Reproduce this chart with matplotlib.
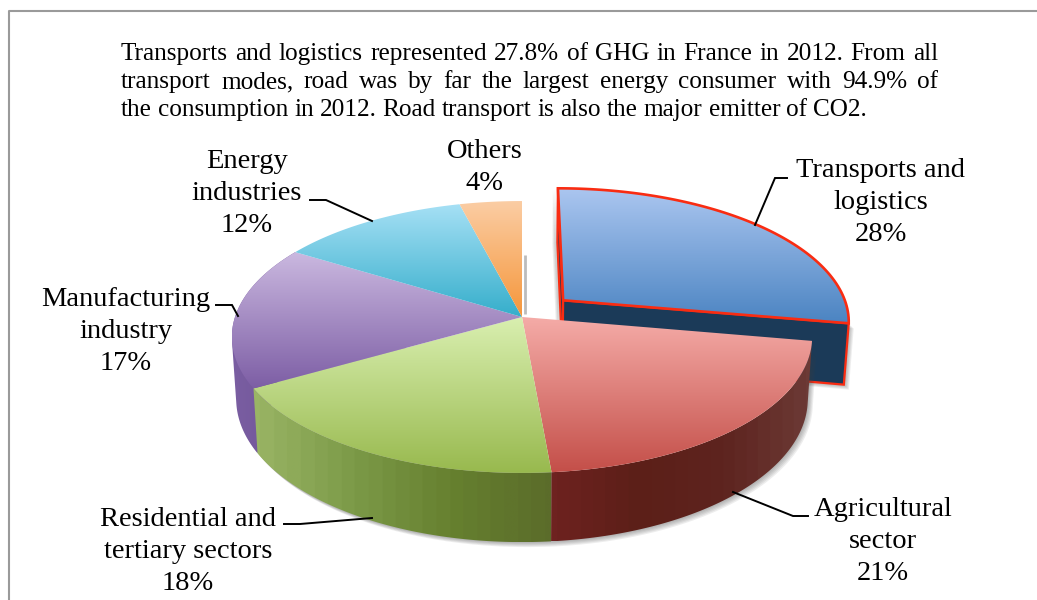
"""Exploded 3D pie of GHG emissions by sector, France 2012."""
import numpy as np
import matplotlib
matplotlib.use('Agg')
import matplotlib.pyplot as plt
from matplotlib.colors import LinearSegmentedColormap
from matplotlib.patches import Polygon

plt.rcParams['font.family'] = ['Liberation Serif', 'DejaVu Serif']

# data, clockwise from 12 o'clock
sectors = ['Transports and\nlogistics', 'Agricultural\nsector',
           'Residential and\ntertiary sectors', 'Manufacturing\nindustry',
           'Energy\nindustries', 'Others']
shares = [27.8, 20.8, 18.1, 17.1, 12.2, 4.0]

intro_lines = [
    'Transports and logistics represented 27.8% of GHG in France in 2012. From all',
    'transport modes, road was by far the largest energy consumer with 94.9% of',
    'the consumption in 2012. Road transport is also the major emitter of CO2.',
]

# top face gradient (far -> near)
top_colors = [('#abc6f0', '#4b84c2'), ('#f5aca8', '#c44f49'), ('#d9efb0', '#98b94e'),
              ('#cbb9e0', '#7d5ea5'), ('#a6e0f5', '#35aecb'), ('#fbcda4', '#f5963a')]
# rim gradient (left -> right)
side_colors = [('#1b3a58', '#1b3a58'),
               ('#6e2220', '#5c1f18', '#5e241f', '#6c3a36'),
               ('#9ab565', '#7c9a48', '#66802f', '#5b6c2a'),
               ('#7a5ea2', '#6f5496'),
               ('#2f8fa8', '#2f8fa8'), ('#c87830', '#c87830')]

# label placement: centre x, first baseline, leader line
label_pos = [(881, 177), (883, 516), (188, 526), (126, 306), (247, 168), (485, 158)]
leaders = [[(755, 225), (775, 178), (787, 178)],
           [(733, 492), (793, 516), (808, 516)],
           [(372, 518), (300, 524), (284, 524)],
           [(238, 316), (232, 305), (216, 305)],
           [(372, 221), (326, 200), (310, 200)],
           None]

# projection of the pie disc (fitted to the picture)
CX, CY = 522, 317
RX, RY = 287, 133
PERSP = 0.147
DEPTH = 61
DEPTH_SCALE = 0.985
EXPLODE = (0.146, 0.128)
RED = '#f92c12'


def project(theta, r=1.0, shift=(0, 0), low=False):
    """theta in degrees clockwise from the top; returns pixel x, y."""
    t = np.radians(theta)
    x = r * np.sin(t) + shift[0]
    y = r * np.cos(t) + shift[1]
    w = 1 + PERSP * y
    px, py = RX * x / w, -RY * y / w
    if low:
        return CX + px * DEPTH_SCALE, CY + py * DEPTH_SCALE + DEPTH / w
    return CX + px, CY + py


def arc(a, b, shift=(0, 0), low=False):
    ts = np.linspace(a, b, 80)
    x, y = project(ts, shift=shift, low=low)
    return np.column_stack([x, y])


def hull(pts):
    """Convex hull, closes the dent where the top and bottom rims meet."""
    pts = sorted(map(tuple, pts))

    def half(seq):
        out = []
        for p in seq:
            while len(out) > 1 and ((out[-1][0] - out[-2][0]) * (p[1] - out[-2][1])
                                    - (out[-1][1] - out[-2][1]) * (p[0] - out[-2][0])) <= 0:
                out.pop()
            out.append(p)
        return out[:-1]

    return np.array(half(pts) + half(pts[::-1]))


def fill_gradient(ax, pts, colors, horizontal=False, bands=None, z=2):
    cmap = LinearSegmentedColormap.from_list('g', list(colors))
    g = np.linspace(0, 1, 256)
    if bands:
        g = np.round(g * bands) / bands
    g = g[None, :] if horizontal else g[:, None]
    x0, y0 = pts.min(axis=0)
    x1, y1 = pts.max(axis=0)
    patch = Polygon(pts, closed=True, fc='none', ec='none', transform=ax.transData)
    ax.add_patch(patch)
    im = ax.imshow(g, cmap=cmap, vmin=0, vmax=1, extent=(x0, x1, y1, y0),
                   aspect='auto', zorder=z, interpolation='bilinear')
    im.set_clip_path(patch)


def soft_shadow(ax, pts, dx=3, dy=3, z=1):
    for i in range(5):
        off = np.array([dx * (i + 1) / 3, dy * (i + 1) / 3])
        ax.add_patch(Polygon(pts + off, closed=True, fc='#404040', ec='none',
                             alpha=0.09, zorder=z))


fig = plt.figure(figsize=(10.37, 6.0), dpi=100)
ax = fig.add_axes([0, 0, 1, 1])

# frame of the page box
ax.plot([9, 9, 1037], [600, 11, 11], color='#9a9a9a', lw=1.5, zorder=1)

edges = np.concatenate([[0], np.cumsum(shares)]) * 360.0 / sum(shares)

# ── exploded slice ──
a, b = edges[0], edges[1]
apex_top = np.array(project(0, r=0, shift=EXPLODE))
apex_low = np.array(project(0, r=0, shift=EXPLODE, low=True))
top_arc = arc(a, b, shift=EXPLODE)
low_arc = arc(a, b, shift=EXPLODE, low=True)

cut_end = np.vstack([apex_top, top_arc[-1], low_arc[-1], apex_low])
cut_start = np.vstack([apex_top, top_arc[0], low_arc[0], apex_low])
soft_shadow(ax, cut_end, z=1.5)
soft_shadow(ax, cut_start, dx=-3, dy=1, z=1.5)
ax.add_patch(Polygon(cut_start, closed=True, fc='#1b3a58', ec=RED, lw=1.6, zorder=2))
ax.add_patch(Polygon(cut_end, closed=True, fc=side_colors[0][0], ec=RED, lw=1.6,
                     joinstyle='miter', zorder=2.1))
wedge = np.vstack([apex_top, top_arc])
fill_gradient(ax, wedge, top_colors[0], z=2.2)
ax.add_patch(Polygon(wedge, closed=True, fc='none', ec=RED, lw=1.9,
                     joinstyle='miter', zorder=2.3))

# ── rest of the pie ──
rim = hull(np.vstack([arc(edges[2], edges[4]), arc(edges[2], edges[4], low=True)]))
rim2 = np.vstack([arc(edges[1], edges[2]), arc(edges[2], edges[1], low=True)])
soft_shadow(ax, rim, z=2.4)
soft_shadow(ax, rim2, z=2.4)
gap_x, gap_y = project(np.array([0, 0]), r=np.array([0.5, 0.02]))
ax.plot(gap_x + 2.5, gap_y, color='#a0a0a0', lw=2.0, alpha=0.7, zorder=2.4,
        solid_capstyle='butt')

# back to front so the nearer rim covers the hull of the manufacturing one
for i in [3, 2, 1]:
    a, b = edges[i], edges[i + 1]
    face = np.vstack([arc(a, b), arc(a, b, low=True)[::-1]])
    if i == 3:
        face = hull(face)
    fill_gradient(ax, face, side_colors[i], horizontal=True, bands=22, z=3)

apex = np.array(project(0, r=0))
for i in range(1, len(shares)):
    wedge = np.vstack([apex, arc(edges[i], edges[i + 1])])
    fill_gradient(ax, wedge, top_colors[i], z=4)

# ── leaders and labels ──
for pts in leaders:
    if pts is None:
        continue
    xs, ys = zip(*pts)
    ax.plot(xs, ys, color='black', lw=1.4, zorder=5, solid_joinstyle='miter')

LINE_STEP = 32
for name, share, (lx, ly) in zip(sectors, shares, label_pos):
    for k, line in enumerate(name.split('\n') + [f'{round(share)}%']):
        ax.text(lx, ly + k * LINE_STEP, line, ha='center', va='baseline',
                fontsize=20.5, color='black', zorder=6)

# ── intro text, first two lines justified ──
INTRO_X0, INTRO_X1 = 121, 938
renderer = fig.canvas.get_renderer()
ax.set_xlim(0, 1037)
ax.set_ylim(600, 0)
for line, y, justify in zip(intro_lines, [60, 88, 116], [True, True, False]):
    words = line.split(' ')
    items = [ax.text(0, y, w, fontsize=18.2, va='baseline', ha='left', zorder=6)
             for w in words]
    widths = [t.get_window_extent(renderer).width for t in items]
    space = (INTRO_X1 - INTRO_X0 - sum(widths)) / (len(words) - 1) if justify else 6.0
    x = INTRO_X0
    for t, w in zip(items, widths):
        t.set_x(x)
        x += w + space

ax.set_xlim(0, 1037)
ax.set_ylim(600, 0)
ax.axis('off')
fig.savefig('out.png', dpi=100)
